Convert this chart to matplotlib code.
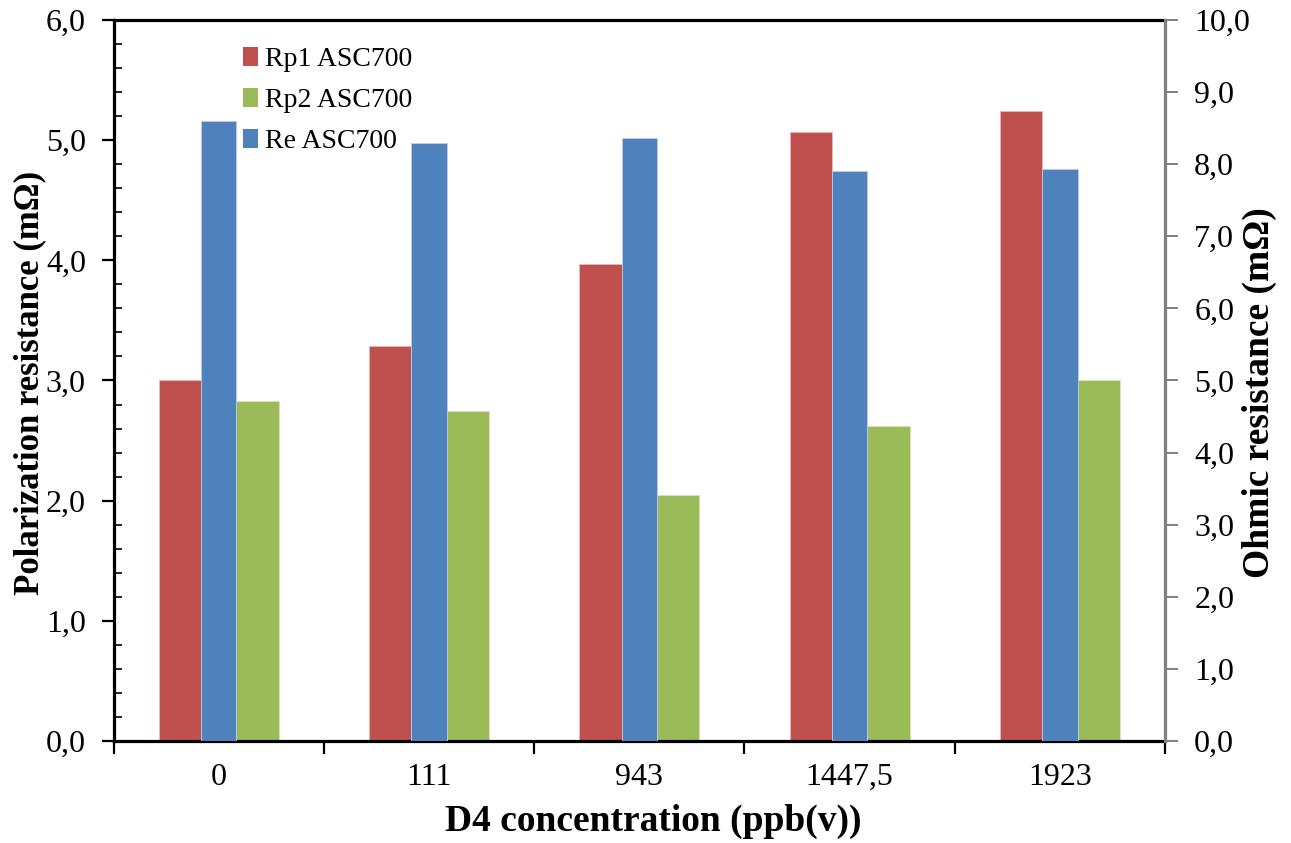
import matplotlib
matplotlib.use("Agg")
import matplotlib.pyplot as plt
import numpy as np
from matplotlib.ticker import FuncFormatter, MultipleLocator, FixedLocator
from matplotlib.patches import Patch

categories = ["0", "111", "943", "1447,5", "1923"]
rp1 = [3.00, 3.29, 3.97, 5.07, 5.24]
rp2 = [2.83, 2.75, 2.05, 2.62, 3.00]
re_ = [8.60, 8.30, 8.37, 7.91, 7.94]

C_RED = "#C0504D"
C_GREEN = "#9BBB59"
C_BLUE = "#4F81BD"

plt.rcParams['font.family'] = ['Liberation Serif', 'DejaVu Serif']

fig = plt.figure(figsize=(12.91, 8.43), dpi=100)
ax = fig.add_axes([113.7/1291, 1-741/843, (1165-113.7)/1291, (741-20)/843])
ax2 = ax.twinx()

x = np.arange(len(categories))
w_side = 0.201
w_mid = 0.168
ax.bar(x - w_mid/2 - w_side/2, rp1, width=w_side, color=C_RED, edgecolor="#E6B9B8", linewidth=0.6, zorder=2)
ax.bar(x + w_mid/2 + w_side/2, rp2, width=w_side, color=C_GREEN, edgecolor="#D7E4BD", linewidth=0.6, zorder=2)
ax2.bar(x, re_, width=w_mid, color=C_BLUE, edgecolor="#B9CDE5", linewidth=0.6, zorder=2)

ax.set_xlim(-0.5, len(categories) - 0.5)
ax.set_ylim(0, 6)
ax2.set_ylim(0, 10)

fmt = FuncFormatter(lambda v, p: f"{v:.1f}".replace(".", ","))

# left axis
ax.yaxis.set_major_locator(MultipleLocator(1))
ax.yaxis.set_minor_locator(MultipleLocator(0.2))
ax.yaxis.set_major_formatter(fmt)
ax.tick_params(axis='y', which='major', direction='out', length=9, width=1.6, labelsize=23, pad=11, color='black')
ax.tick_params(axis='y', which='minor', direction='in', length=6, width=1.2, color='black')

# x axis
ax.xaxis.set_major_locator(FixedLocator(np.arange(-0.5, len(categories), 1.0)))
ax.xaxis.set_minor_locator(FixedLocator(x))
ax.xaxis.set_major_formatter(FuncFormatter(lambda v, p: ""))
ax.xaxis.set_minor_formatter(FuncFormatter(lambda v, p: categories[int(round(v))] if 0 <= round(v) < len(categories) else ""))
ax.tick_params(axis='x', which='major', direction='out', length=9, width=1.6, color='black')
ax.tick_params(axis='x', which='minor', direction='in', length=6, width=1.2, labelsize=23, pad=16, color='black')

# right axis
ax2.yaxis.set_major_locator(MultipleLocator(1))
ax2.yaxis.set_major_formatter(fmt)
ax2.tick_params(axis='y', which='major', direction='out', length=9, width=1.4, labelsize=23, pad=12, color='#808080')

for s in ['left', 'bottom', 'top']:
    ax.spines[s].set_linewidth(2.3)
    ax.spines[s].set_color('black')
    ax2.spines[s].set_visible(False)
ax.spines['right'].set_visible(False)
ax2.spines['right'].set_color('#808080')
ax2.spines['right'].set_linewidth(2.3)

ax.set_xlabel("D4 concentration (ppb(v))", fontsize=27, fontweight='bold')
ax.xaxis.set_label_coords(0.513, -0.112)
ax.xaxis.label.set_verticalalignment('center')
ax.set_ylabel("Polarization resistance (mΩ)", fontsize=25, fontweight='bold')
ax.yaxis.set_label_coords(-0.0796, 0.497)
ax.yaxis.label.set_verticalalignment('center')
ax2.set_ylabel("Ohmic resistance (mΩ)", fontsize=27, fontweight='bold')
ax2.yaxis.set_label_coords(1.090, 0.483)
ax2.yaxis.label.set_verticalalignment('center')

handles = [Patch(facecolor=C_RED, edgecolor='none', label="Rp1 ASC700"),
           Patch(facecolor=C_GREEN, edgecolor='none', label="Rp2 ASC700"),
           Patch(facecolor=C_BLUE, edgecolor='none', label="Re ASC700")]
leg = ax2.legend(handles=handles, loc='upper left', bbox_to_anchor=(0.112, 0.978), frameon=False,
                 fontsize=20, handlelength=0.55, handleheight=0.7, handletextpad=0.25,
                 labelspacing=0.56, borderaxespad=0)

fig.savefig("out.png", dpi=100)
